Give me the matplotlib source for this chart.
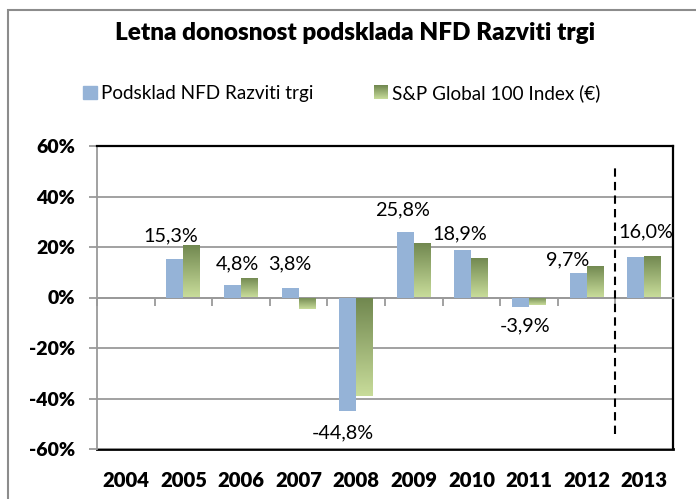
import numpy as np
import matplotlib
matplotlib.use('Agg')
import matplotlib.pyplot as plt
from matplotlib.colors import LinearSegmentedColormap
from matplotlib.legend_handler import HandlerBase
from matplotlib.image import BboxImage
from matplotlib.transforms import Bbox, TransformedBbox
from matplotlib.patches import Patch, Rectangle

# data
years = ['2004', '2005', '2006', '2007', '2008', '2009', '2010', '2011', '2012', '2013']
fund = [np.nan, 15.3, 4.8, 3.8, -44.8, 25.8, 18.9, -3.9, 9.7, 16.0]
index = [np.nan, 20.7, 7.8, -4.6, -39.1, 21.5, 15.6, -2.9, 12.4, 16.4]
yticks = [-60, -40, -20, 0, 20, 40, 60]

title = 'Letna donosnost podsklada NFD Razviti trgi'
fund_name = 'Podsklad NFD Razviti trgi'
index_name = 'S&P Global 100 Index (€)'

# hand placement of the value labels as in the original (pixels)
label_dx = [0, -4, 5, 0, -5, -3, -3, 5, -10, 10]
label_dy = [0, 23, 22, 24, -22, 22, 16, -19, 13, 25]

blue = '#95B3D7'
greens = LinearSegmentedColormap.from_list('greens', ['#C8DC9A', '#70874F'])
grey = '#9A9A9A'

plt.rcParams['font.family'] = ['Lato', 'DejaVu Sans']

fig = plt.figure(figsize=(6.96, 4.99), dpi=100)
ax = fig.add_axes([97 / 696, 1 - 449 / 499, 576 / 696, 303 / 499])

x = np.arange(len(years))
w = 0.295

ax.bar(x - w / 2, fund, w, color=blue, zorder=3)
green_bars = ax.bar(x + w / 2, index, w, color='none', zorder=3)

# gradient fill for the index bars (dark at top, light at bottom)
grad = np.linspace(1, 0, 100).reshape(-1, 1)
for b in green_bars:
    h = b.get_height()
    if np.isnan(h):
        continue
    x0 = b.get_x()
    y0, y1 = sorted([0, h])
    im = ax.imshow(grad, extent=[x0, x0 + b.get_width(), y0, y1], origin='upper',
                   cmap=greens, aspect='auto', interpolation='bilinear', zorder=3)
    im.set_clip_path(b)

# value labels for the fund
for xi, v, dx, dy in zip(x, fund, label_dx, label_dy):
    if np.isnan(v):
        continue
    txt = f'{v:.1f}%'.replace('.', ',')
    ax.annotate(txt, (xi - w / 2, v), xytext=(dx * 0.72, dy * 0.72), textcoords='offset points',
                ha='center', va='center', fontsize=14.3, color='black', zorder=5)

# dashed separator before 2013
ax.vlines(x[-1] - 0.5, -54, 53, colors='black', linestyles=(0, (4, 2.5)), lw=1.5, zorder=4)

ax.set_xlim(-0.5, len(years) - 0.5)
ax.set_ylim(-60, 60)
ax.set_yticks(yticks)
ax.set_yticklabels([f'{t}%' for t in yticks], fontweight='heavy', fontsize=14)
ax.yaxis.grid(True, color=grey, lw=1.3, zorder=1)
ax.set_axisbelow(True)
ax.tick_params(axis='y', length=6, width=1.3, color=grey, pad=10)

# category axis crosses at zero
ax.spines['bottom'].set_position(('data', 0))
ax.spines['bottom'].set_color(grey)
ax.spines['bottom'].set_linewidth(1.3)
ax.set_xticks(np.arange(len(years) + 1) - 0.5)
ax.tick_params(axis='x', length=5.5, width=1.3, color=grey, labelbottom=False, direction='out')
ax.spines['left'].set_color(grey)
ax.spines['left'].set_linewidth(1.3)
for s in ['top', 'right']:
    ax.spines[s].set_color('black')
    ax.spines[s].set_linewidth(1.6)

sec = ax.secondary_xaxis('bottom')
sec.set_xticks(x, years, fontweight='heavy', fontsize=14.6)
sec.tick_params(length=0, pad=16)
sec.spines['bottom'].set_color('black')
sec.spines['bottom'].set_linewidth(2)

fig.text(355 / 696, 1 - 33 / 499, title, ha='center', va='center',
         fontsize=17.5, fontweight='heavy')


class GradientHandler(HandlerBase):
    def create_artists(self, legend, orig_handle, xdescent, ydescent, width, height, fontsize, trans):
        bb = TransformedBbox(Bbox.from_bounds(-xdescent, -ydescent, width, height), trans)
        img = BboxImage(bb, cmap=greens, interpolation='bilinear', origin='upper')
        img.set_data(grad)
        return [img]


h1 = Patch(color=blue)
h2 = Patch(color='#9BB072')
fig.legend([h1, h2], [fund_name, index_name], loc='center', bbox_to_anchor=(342 / 696, 1 - 93 / 499),
           ncol=2, frameon=False, fontsize=13.6, handlelength=0.7, handleheight=0.7,
           handletextpad=0.25, columnspacing=3.2, handler_map={h2: GradientHandler()})

# outer chart border
fig.patches.append(Rectangle((8 / 696, -0.1), 2, 1 - 10 / 499 + 0.1, transform=fig.transFigure,
                             fill=False, ec='#8C8C8C', lw=1.5))

fig.savefig('out.png', dpi=100)
